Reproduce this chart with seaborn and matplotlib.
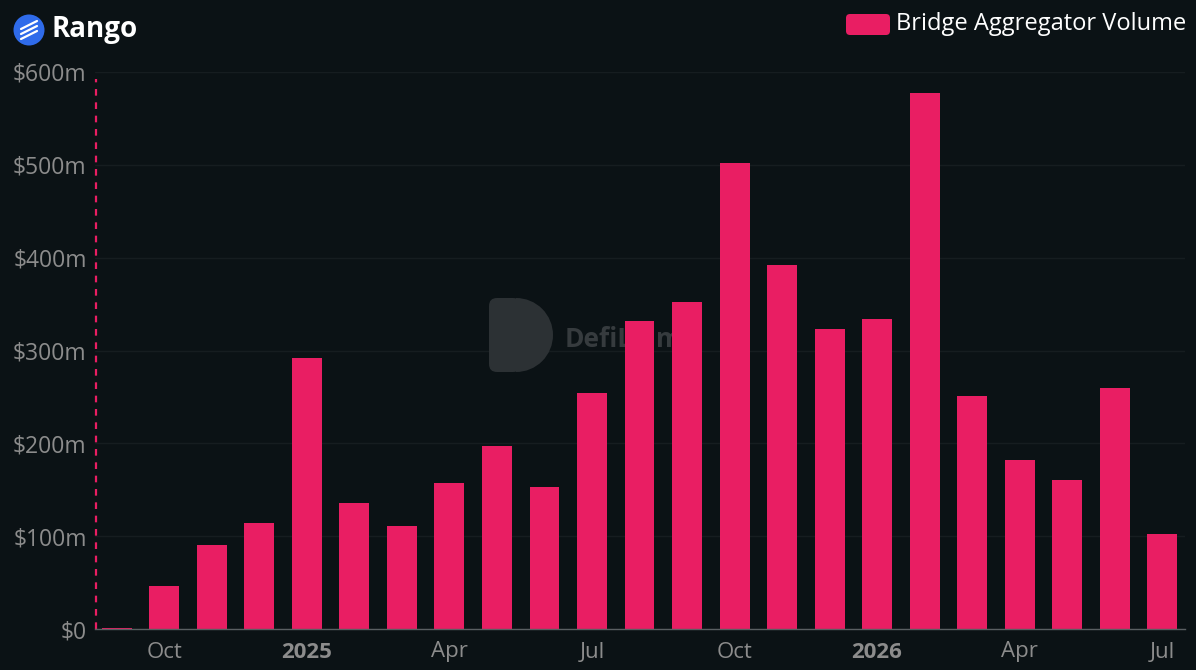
import matplotlib
matplotlib.use("Agg")
import matplotlib.pyplot as plt
from matplotlib.patches import Circle, FancyBboxPatch, Wedge
from matplotlib.lines import Line2D
import seaborn as sns
import pandas as pd

months = ["2024-09", "2024-10", "2024-11", "2024-12",
          "2025-01", "2025-02", "2025-03", "2025-04", "2025-05", "2025-06",
          "2025-07", "2025-08", "2025-09", "2025-10", "2025-11", "2025-12",
          "2026-01", "2026-02", "2026-03", "2026-04", "2026-05", "2026-06",
          "2026-07"]
volume_m = [1.5, 46, 90, 114, 292, 136, 111, 157, 197, 153,
            254, 332, 352, 502, 392, 323, 334, 577, 251, 182,
            161, 260, 102]

tick_idx = [1, 4, 7, 10, 13, 16, 19, 22]
tick_labels = ["Oct", "2025", "Apr", "Jul", "Oct", "2026", "Apr", "Jul"]
bold_ticks = ["2025", "2026"]
y_ticks = [0, 100, 200, 300, 400, 500, 600]

bg = "#0b1215"
pink = "#e91e63"
grey = "#8c8c8c"
W, H = 1196, 670

df = pd.DataFrame({"month": months, "volume": volume_m})

sns.set_theme(style="dark")
plt.rcParams["font.family"] = ["Open Sans", "DejaVu Sans"]

fig = plt.figure(figsize=(W / 100, H / 100), dpi=100, facecolor=bg)
ax = fig.add_axes([95 / W, 1 - 629 / H, 1090 / W, 557 / H])
ax.set_facecolor(bg)

sns.barplot(data=df, x="month", y="volume", color=pink, width=0.63,
            saturation=1, ax=ax, zorder=3, edgecolor="none")

ax.set_ylim(0, 600)
ax.set_xlim(-0.46, len(months) - 1 + 0.48)
ax.set_yticks(y_ticks)
ax.set_yticklabels(["$0"] + [f"${v}m" for v in y_ticks[1:]])
ax.set_xticks(tick_idx)
ax.set_xticklabels(tick_labels)
for lbl in ax.get_xticklabels():
    if lbl.get_text() in bold_ticks:
        lbl.set_fontweight("bold")

ax.tick_params(axis="x", colors=grey, labelsize=16, length=5, width=1,
               direction="out", pad=4, color="#c8c8c8")
ax.tick_params(axis="y", colors=grey, labelsize=16.5, length=0, pad=6)
ax.set_xlabel("")
ax.set_ylabel("")

ax.grid(axis="y", color="#161d20", linewidth=1, zorder=0)
ax.grid(axis="x", visible=False)
for side in ["top", "right", "left"]:
    ax.spines[side].set_visible(False)
ax.spines["bottom"].set_color("#5a5f62")
ax.spines["bottom"].set_linewidth(1)
ax.spines["bottom"].set_zorder(4)

# dashed marker at the left edge
ax.add_line(Line2D([-0.43, -0.43], [0, 592], color=pink, linestyle=(0, (3, 3)),
                   linewidth=1.6, zorder=2.5, clip_on=False))

# watermark (pixel coordinates via dpi transform)
px = fig.dpi_scale_trans


def p(x, y):
    return (x / 100, (H - y) / 100)


fig.patches.append(FancyBboxPatch(p(489, 372), 0.32, 0.74,
                                  boxstyle="round,pad=0,rounding_size=0.08",
                                  transform=px, facecolor="#2c3134",
                                  edgecolor="none", zorder=0.5))
fig.patches.append(Wedge(p(516, 335), 0.37, -90, 90, transform=px,
                         facecolor="#2c3134", edgecolor="none", zorder=0.5))
ax.text(0.431, 0.52, "DefiLlama", transform=ax.transAxes, fontsize=19,
        fontweight="bold", color="#363b3e", va="center", ha="left", zorder=1)

# header logo
fig.patches.append(Circle(p(29, 30), 0.155, transform=px,
                          facecolor="#2f6bea", edgecolor="none"))
for dy in (-5, 0, 5):
    fig.lines.append(Line2D([p(21, 34 + dy)[0], p(37, 26 + dy)[0]],
                            [p(21, 34 + dy)[1], p(37, 26 + dy)[1]],
                            transform=px, color="white", linewidth=1.6))
fig.text(52 / W, 1 - 30 / H, "Rango", color="white", fontsize=20,
         fontweight="bold", va="center", ha="left")

# legend
fig.patches.append(FancyBboxPatch(p(846, 35), 0.44, 0.21,
                                  boxstyle="round,pad=0,rounding_size=0.04",
                                  transform=px, facecolor=pink,
                                  edgecolor="none"))
fig.text(896 / W, 1 - 24 / H, "Bridge Aggregator Volume", color="white",
         fontsize=17, va="center", ha="left")

fig.savefig("out.png", dpi=100, facecolor=bg)
